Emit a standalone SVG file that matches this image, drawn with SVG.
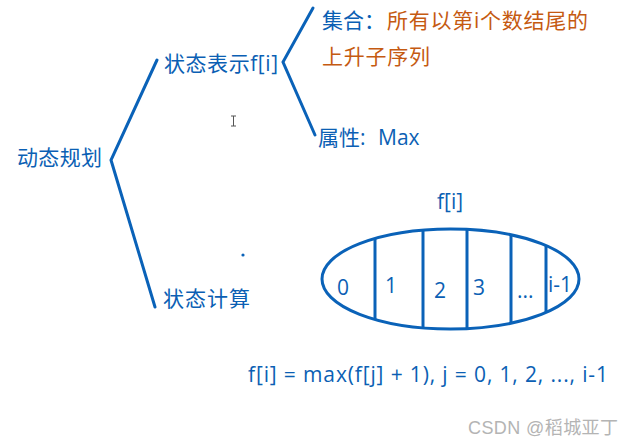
<svg xmlns="http://www.w3.org/2000/svg" width="634" height="447" viewBox="0 0 634 447">
<style>
.t{font-family:"Open Sans","Noto Sans CJK SC",sans-serif;font-size:21px;fill:#0b5fb4}
.o{fill:#c55a11}
.ln{fill:none;stroke:#0a62b8;stroke-width:3;stroke-linecap:round;stroke-linejoin:miter}
.cell{fill:none;stroke:#0a62b8;stroke-width:3}
.wm{font-family:"Liberation Sans","Noto Sans CJK SC",sans-serif;font-size:18px;fill:#b4b4b4}
</style>
<rect width="634" height="447" fill="#ffffff"/>
<g id="connectors">
<path class="ln" d="M157,60 L111,160 L155,307"/>
<path class="ln" d="M313,8 L283,62 L315,135"/>
</g>
<g id="node-dp"><text class="t" x="17" y="165" textLength="85">动态规划</text></g>
<g id="node-state"><text class="t" x="164" y="71" textLength="114">状态表示f[i]</text></g>
<g id="node-set">
<text class="t" x="322" y="28">集合：<tspan class="o" x="387" textLength="201">所有以第i个数结尾的</tspan></text>
<text class="t o" x="322" y="64" textLength="108">上升子序列</text>
</g>
<g id="node-attr"><text class="t" x="318" y="145">属性:<tspan x="378">Max</tspan></text></g>
<g id="node-calc"><text class="t" x="163" y="306" textLength="87">状态计算</text></g>
<g id="marks">
<circle cx="243" cy="255" r="1.6" fill="#0a62b8"/>
<path d="M231,116 H236 M233.5,116 V126 M231,126 H236" stroke="#555" stroke-width="1" fill="none"/>
</g>
<g id="node-array">
<text class="t" x="437" y="209">f[i]</text>
<ellipse class="cell" cx="450.5" cy="279" rx="128.5" ry="50"/>
<line class="cell" x1="375" y1="238" x2="375" y2="320"/>
<line class="cell" x1="423" y1="229" x2="423" y2="329"/>
<line class="cell" x1="467" y1="229" x2="467" y2="329"/>
<line class="cell" x1="511" y1="234" x2="511" y2="324"/>
<line class="cell" x1="546" y1="246" x2="546" y2="312"/>
<text class="t" x="337" y="295">0</text>
<text class="t" x="385" y="293">1</text>
<text class="t" x="434" y="298">2</text>
<text class="t" x="473" y="295">3</text>
<text class="t" x="517" y="298">...</text>
<text class="t" x="548" y="292">i-1</text>
</g>
<g id="node-formula"><text class="t" x="248" y="382" textLength="360">f[i] = max(f[j] + 1), j = 0, 1, 2, ..., i-1</text></g>
<text class="wm" x="468" y="434" textLength="150">CSDN @稻城亚丁</text>
</svg>
